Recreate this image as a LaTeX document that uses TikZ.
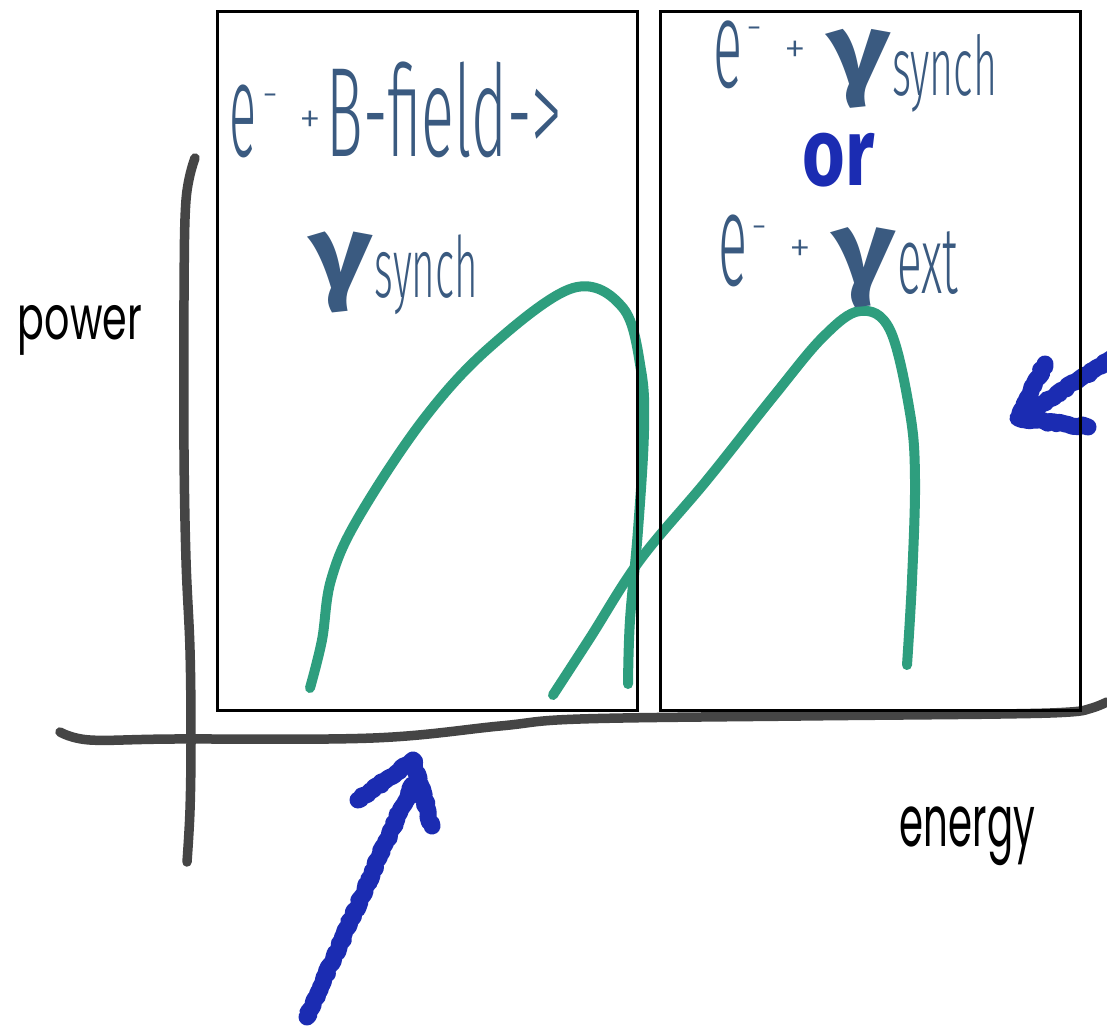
\documentclass[tikz,border=0pt]{standalone}
\usepackage{fontspec}
\usepackage{graphicx}
\setmainfont{Fira Sans}
\newfontfamily\thinf{Fira Sans Light}
\newfontfamily\handf{Poppins}
\usetikzlibrary{decorations.pathmorphing}
\definecolor{slate}{HTML}{3A5A80}
\definecolor{penblue}{HTML}{1B2CB2}
\definecolor{specgreen}{HTML}{2E9E7E}
\definecolor{axisgray}{HTML}{454545}
\newcommand\fitto[3]{\resizebox*{#1pt}{#2pt}{#3}}
\begin{document}
\begin{tikzpicture}[x=1pt,y=-1pt,
  axis/.style={draw=axisgray,line width=9.5pt,line cap=round,line join=round},
  spec/.style={draw=specgreen,line width=10pt,line cap=round,line join=round},
  panel/.style={draw=black,line width=3pt},
  scrawl/.style={draw=penblue,line width=17pt,line cap=round,line join=round,
    decorate,decoration={random steps,segment length=3pt,amplitude=1.5pt}},
  txt/.style={inner sep=0pt,outer sep=0pt,anchor=center},
  slab/.style={txt,text=slate},
  small/.style={slab,font={\thinf\fontsize{#1}{#1}\selectfont}}]
\fill[white] (0,0) rectangle (1107,1027);
\useasboundingbox (0,0) rectangle (1107,1027);
% axes
\draw[axis] plot[smooth,tension=0.6] coordinates {(195,158) (186,200) (184,300) (184,450) (186,560) (190,650) (191,740) (190,810) (187,862)};
\draw[axis] plot[smooth,tension=0.6] coordinates {(60,732) (90,740) (173,739) (373,738) (500,726) (580,719) (800,716) (1000,714) (1070,712) (1092,708) (1107,702)};
% spectra
\draw[spec] plot[smooth,tension=0.6] coordinates {(310,688) (322,640) (331,580) (357,520) (423,420) (490,347) (573,288) (623,308) (641,370) (644,430) (638,530) (630,620) (628,684)};
\draw[spec] plot[smooth,tension=0.6] coordinates {(553,695) (590,638) (640,560) (707,480) (773,397) (823,337) (860,311) (890,330) (910,413) (915,480) (912,580) (907,665)};
% blue arrows
\draw[scrawl] (307,1017) -- (412,785);
\draw[scrawl] (358,800) -- (413,760) -- (432,826);
\draw[scrawl] (1112,358) -- (1035,408);
\draw[scrawl] (1045,364) -- (1018,418) -- (1088,427);
% panels
\draw[panel] (217,12) rectangle (637,710);
\draw[panel] (660,12) rectangle (1080,710);
% left panel text
\node[slab] (eL) at (243,121.5) {\fitto{27}{73}{\thinf e}};
\node[small=40] (mL) at (270.5,101) {-};
\node[small=44] (pL) at (310,122) {+};
\node[slab] (bL) at (444.5,110) {\fitto{235}{96}{\thinf B-field->}};
\node[slab] (gL) at (341.5,272.5) {\fitto{63}{81}{\bfseries γ}};
\node[slab] (sL) at (426.5,275) {\fitto{103}{80}{\thinf synch}};
% right panel text
\node[slab] (eR1) at (727.5,55) {\fitto{29}{68}{\thinf e}};
\node[small=40] (mR1) at (755,34) {-};
\node[small=44] (pR1) at (795.5,52) {+};
\node[slab] (gR1) at (858.5,69) {\fitto{63}{79}{\bfseries γ}};
\node[slab] (sR1) at (944.5,73) {\fitto{105}{78}{\thinf synch}};
\node[txt,text=penblue] (or) at (839,160) {\fitto{72}{54}{\bfseries or}};
\node[slab] (eR2) at (732.5,251) {\fitto{29}{72}{\thinf e}};
\node[small=40] (mR2) at (760,233) {-};
\node[small=44] (pR2) at (800.5,251) {+};
\node[slab] (gR2) at (863.5,268) {\fitto{63}{80}{\bfseries γ}};
\node[slab] (xR2) at (927.5,263.5) {\fitto{61}{63}{\thinf ext}};
% axis labels
\node[txt] (power) at (80,330) {\fitto{124}{50}{\handf power}};
\node[txt] (energy) at (967.5,836.5) {\fitto{135}{59}{\handf energy}};
\end{tikzpicture}
\end{document}
